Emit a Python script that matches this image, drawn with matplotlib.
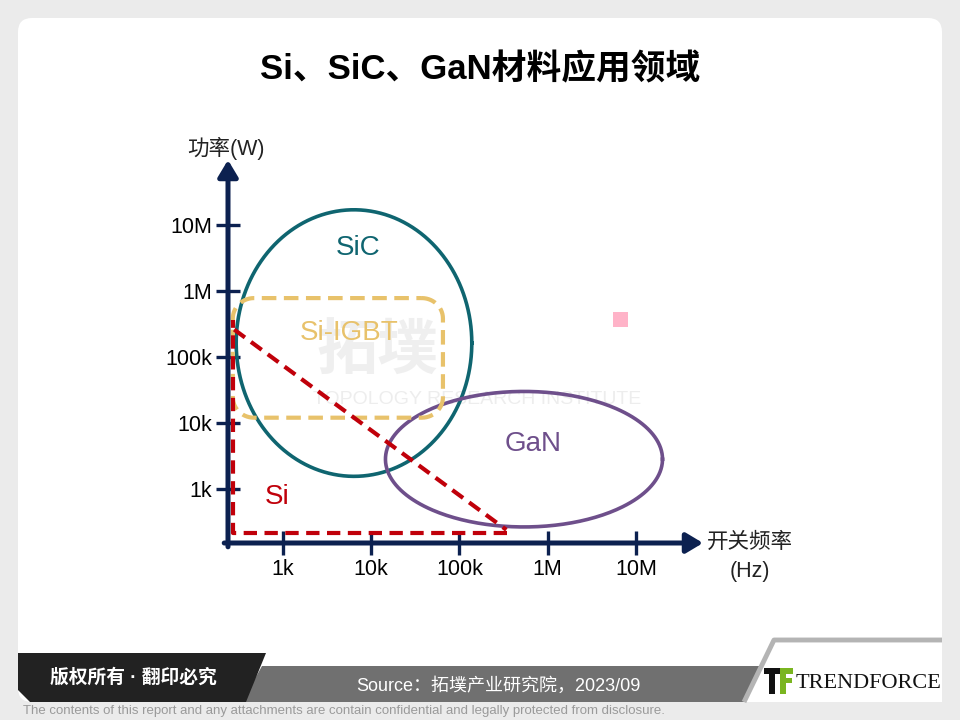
import numpy as np
import matplotlib.pyplot as plt
from matplotlib.patches import FancyBboxPatch, Polygon, Rectangle
from matplotlib.ticker import NullLocator

plt.rcParams['font.family'] = ['Liberation Sans', 'Noto Sans CJK SC', 'DejaVu Sans']

# axis ticks (Hz / W)
freq_ticks = [1e3, 1e4, 1e5, 1e6, 1e7]
freq_labels = ['1k', '10k', '100k', '1M', '10M']
power_ticks = [1e3, 1e4, 1e5, 1e6, 1e7]
power_labels = ['1k', '10k', '100k', '1M', '10M']

# application regions: (min, max) frequency in Hz and power in W
sic_freq = (295, 1.38e5)
sic_power = (1.55e3, 1.7e7)
gan_freq = (1.45e4, 2.0e7)
gan_power = (265, 3.0e4)
igbt_freq = (270, 6.5e4)
igbt_power = (1.2e4, 7.8e5)
si_bound_freq = [3.5e5, 270, 270]
si_bound_power = [215, 215, 3.6e5]
si_diag_freq = [280, 3.4e5]
si_diag_power = [2.6e5, 240]

navy = '#0c2150'
teal = '#0f6570'
gold = '#e8c26b'
purple = '#6e4f8b'
red = '#c0000a'

fig = plt.figure(figsize=(9.6, 7.2), dpi=100)
fig.patch.set_facecolor('#ebebeb')

# background / decoration in pixel coords
bg = fig.add_axes([0, 0, 1, 1], zorder=0)
bg.set_xlim(0, 960)
bg.set_ylim(720, 0)
bg.axis('off')
bg.add_patch(FancyBboxPatch((18, 18), 924, 684, boxstyle='round,pad=0,rounding_size=14',
                            fc='white', ec='none'))
bg.text(480, 70, 'Si、SiC、GaN材料应用领域', ha='center', va='center', fontsize=25,
        fontweight='bold', color='black')

# watermark
bg.text(378, 352, '拓墣', ha='center', va='center', fontsize=44, fontweight='bold',
        color='#d8d8d8', alpha=0.4, family=['Noto Sans CJK SC'])
bg.text(477, 400, 'TOPOLOGY RESEARCH INSTITUTE', ha='center', va='center', fontsize=14,
        color='#d8d8d8', alpha=0.45)
bg.add_patch(Rectangle((613, 312), 15, 15, fc='#ffb3c8', ec='none'))

# footer
bg.add_patch(Polygon([(262, 666), (760, 666), (744, 702), (242, 702)], closed=True,
                     fc='#707070', ec='none'))
bg.add_patch(Polygon([(18, 653), (266, 653), (246, 702), (30, 702), (18, 690)], closed=True,
                     fc='#222222', ec='none'))
bg.add_patch(Polygon([(744, 702), (774, 640), (942, 640), (942, 702)], closed=True,
                     fc='white', ec='none'))
bg.plot([744, 774, 942], [702, 640, 640], color='#b4b4b4', lw=3.5, solid_capstyle='butt')
bg.text(133, 677, '版权所有 · 翻印必究', ha='center', va='center', fontsize=13.5,
        color='white', fontweight='bold')
bg.text(498, 686, 'Source：拓墣产业研究院，2023/09', ha='center', va='center',
        fontsize=13, color='white')
bg.add_patch(Rectangle((764, 668), 16, 6, fc='#111111', ec='none'))
bg.add_patch(Rectangle((769, 668), 6, 26, fc='#111111', ec='none'))
bg.add_patch(Rectangle((780, 668), 13, 6, fc='#7ab520', ec='none'))
bg.add_patch(Rectangle((780, 668), 6, 26, fc='#7ab520', ec='none'))
bg.add_patch(Rectangle((780, 678), 12, 5, fc='#7ab520', ec='none'))
bg.text(796, 684, 'TRENDFORCE', ha='left', va='center', fontsize=16,
        family=['Liberation Serif'], color='#111111')
bg.text(23, 711, 'The contents of this report and any attachments are contain confidential '
        'and legally protected from disclosure.', ha='left', va='center', fontsize=9.5,
        color='#9a9a9a')

# axis labels
bg.text(226, 148, '功率(W)', ha='center', va='center', fontsize=15.5, color='#222222')
bg.text(707, 542, '开关频率', ha='left', va='center', fontsize=15.5, color='#222222')
bg.text(750, 572, '(Hz)', ha='center', va='center', fontsize=15.5, color='#222222')

# chart
ax = fig.add_axes([228 / 960, (720 - 543) / 720, 475 / 960, 383 / 720], zorder=1)
ax.patch.set_alpha(0)
ax.set_xscale('log')
ax.set_yscale('log')
ax.set_xlim(10 ** 2.377, 10 ** 7.76)
ax.set_ylim(10 ** 2.18, 10 ** 7.985)
for s in ax.spines.values():
    s.set_visible(False)

ax.set_xticks(freq_ticks, freq_labels)
ax.set_yticks(power_ticks, power_labels)
ax.xaxis.set_minor_locator(NullLocator())
ax.yaxis.set_minor_locator(NullLocator())
ax.tick_params(axis='both', direction='inout', length=17, width=2.4, color=navy,
               labelsize=15.5, pad=3, labelcolor='black')

arrow = dict(arrowstyle='-|>,head_length=0.5,head_width=0.3', lw=3.6, color=navy,
             shrinkA=0, shrinkB=0, mutation_scale=20)
ax.annotate('', xy=(0, 1), xytext=(0, -0.01), xycoords='axes fraction', arrowprops=arrow)
ax.annotate('', xy=(1, 0), xytext=(-0.008, 0), xycoords='axes fraction', arrowprops=arrow)


def ellipse(freq, power, color):
    lx = np.log10(freq)
    ly = np.log10(power)
    cx, cy = lx.mean(), ly.mean()
    a, b = (lx[1] - lx[0]) / 2, (ly[1] - ly[0]) / 2
    t = np.linspace(0, 2 * np.pi, 300)
    ax.plot(10 ** (cx + a * np.cos(t)), 10 ** (cy + b * np.sin(t)), color=color, lw=2.6)


def rounded_box(freq, power, rx, ry, **kw):
    x0, x1 = np.log10(freq)
    y0, y1 = np.log10(power)
    xs, ys = [], []
    corners = [((x1 - rx, y1 - ry), 90, 0), ((x1 - rx, y0 + ry), 0, -90),
               ((x0 + rx, y0 + ry), -90, -180), ((x0 + rx, y1 - ry), 180, 90)]
    for (cx, cy), a0, a1 in corners:
        ang = np.radians(np.linspace(a0, a1, 15))
        xs.extend(cx + rx * np.cos(ang))
        ys.extend(cy + ry * np.sin(ang))
    xs.append(xs[0])
    ys.append(ys[0])
    ax.plot(10 ** np.array(xs), 10 ** np.array(ys), **kw)


ellipse(np.array(sic_freq), np.array(sic_power), teal)
ellipse(np.array(gan_freq), np.array(gan_power), purple)
rounded_box(igbt_freq, igbt_power, 0.24, 0.31, color=gold, lw=3, linestyle=(0, (3.5, 1.8)))
ax.plot(si_bound_freq, si_bound_power, color=red, lw=3, linestyle=(0, (3.2, 1.8)))
ax.plot(si_diag_freq, si_diag_power, color=red, lw=3, linestyle=(0, (3.2, 1.8)))

ax.text(7.1e3, 4.5e6, 'SiC', color=teal, fontsize=20, ha='center', va='center')
ax.text(5.6e3, 2.3e5, 'Si-IGBT', color=gold, fontsize=20, ha='center', va='center')
ax.text(6.8e5, 4.8e3, 'GaN', color=purple, fontsize=20, ha='center', va='center')
ax.text(860, 760, 'Si', color=red, fontsize=20, ha='center', va='center')

fig.savefig('out.png', dpi=100, facecolor=fig.get_facecolor())
